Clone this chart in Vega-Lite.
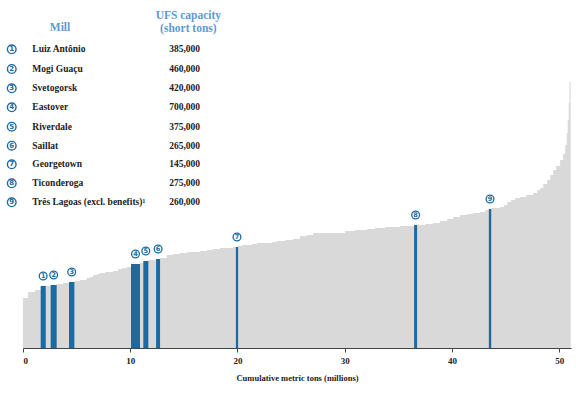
{
  "$schema": "https://vega.github.io/schema/vega-lite/v6.json",
  "width": 548,
  "height": 348,
  "autosize": {"type": "none"},
  "padding": {"left": 23, "top": 0, "right": 5, "bottom": 45},
  "background": "white",
  "config": {
    "view": {"stroke": null},
    "font": "Liberation Serif"
  },
  "datasets": {
    "curve": [
      {"x": 0.00, "h": 50}, {"x": 0.47, "h": 56}, {"x": 1.12, "h": 58}, {"x": 1.65, "h": 62},
      {"x": 2.12, "h": 62}, {"x": 2.58, "h": 63}, {"x": 3.14, "h": 64}, {"x": 3.73, "h": 65},
      {"x": 4.29, "h": 66}, {"x": 4.79, "h": 67}, {"x": 5.32, "h": 68}, {"x": 5.94, "h": 70},
      {"x": 6.25, "h": 71}, {"x": 6.53, "h": 73}, {"x": 6.90, "h": 74}, {"x": 7.18, "h": 75},
      {"x": 7.65, "h": 76}, {"x": 8.40, "h": 77}, {"x": 8.86, "h": 79}, {"x": 9.24, "h": 80},
      {"x": 9.70, "h": 81}, {"x": 10.07, "h": 84}, {"x": 10.91, "h": 85}, {"x": 11.22, "h": 87},
      {"x": 11.69, "h": 88}, {"x": 12.41, "h": 89}, {"x": 12.78, "h": 90}, {"x": 13.40, "h": 93},
      {"x": 13.99, "h": 94}, {"x": 14.65, "h": 95}, {"x": 15.30, "h": 96}, {"x": 16.51, "h": 97},
      {"x": 17.16, "h": 98}, {"x": 17.72, "h": 99}, {"x": 18.38, "h": 100}, {"x": 19.59, "h": 101},
      {"x": 19.85, "h": 101}, {"x": 20.06, "h": 102}, {"x": 20.43, "h": 103}, {"x": 21.36, "h": 104},
      {"x": 21.83, "h": 105}, {"x": 23.23, "h": 106}, {"x": 23.69, "h": 107}, {"x": 24.44, "h": 108},
      {"x": 25.19, "h": 109}, {"x": 25.84, "h": 112}, {"x": 26.49, "h": 113}, {"x": 27.05, "h": 115},
      {"x": 30.04, "h": 117}, {"x": 30.97, "h": 118}, {"x": 32.09, "h": 119}, {"x": 32.84, "h": 120},
      {"x": 33.77, "h": 121}, {"x": 35.17, "h": 122}, {"x": 36.47, "h": 123}, {"x": 36.75, "h": 123},
      {"x": 37.50, "h": 124}, {"x": 38.25, "h": 125}, {"x": 38.90, "h": 127}, {"x": 39.55, "h": 129},
      {"x": 40.11, "h": 131}, {"x": 40.77, "h": 133}, {"x": 41.42, "h": 134}, {"x": 41.98, "h": 135},
      {"x": 42.63, "h": 136}, {"x": 43.10, "h": 138}, {"x": 43.44, "h": 139}, {"x": 43.66, "h": 140},
      {"x": 44.50, "h": 141}, {"x": 44.87, "h": 143}, {"x": 45.15, "h": 146}, {"x": 45.52, "h": 148},
      {"x": 45.90, "h": 150}, {"x": 46.36, "h": 151}, {"x": 46.92, "h": 153}, {"x": 47.57, "h": 155},
      {"x": 47.95, "h": 158}, {"x": 48.23, "h": 160}, {"x": 48.51, "h": 164}, {"x": 48.88, "h": 168},
      {"x": 49.16, "h": 173}, {"x": 49.44, "h": 178}, {"x": 49.72, "h": 182}, {"x": 50.09, "h": 188},
      {"x": 50.37, "h": 194}, {"x": 50.56, "h": 203}, {"x": 50.70, "h": 215}, {"x": 50.79, "h": 228},
      {"x": 50.89, "h": 245}, {"x": 50.96, "h": 266}, {"x": 51.07, "h": 266}
    ],
    "mills": [
      {"id": "1", "mill": "Luiz Antônio", "cap": "385,000", "x0": 1.65, "x1": 2.12, "xm": 1.88, "top": 62, "ty": 298.7},
      {"id": "2", "mill": "Mogi Guaçu", "cap": "460,000", "x0": 2.58, "x1": 3.14, "xm": 2.86, "top": 63, "ty": 279.0},
      {"id": "3", "mill": "Svetogorsk", "cap": "420,000", "x0": 4.29, "x1": 4.79, "xm": 4.54, "top": 66, "ty": 259.7},
      {"id": "4", "mill": "Eastover", "cap": "700,000", "x0": 10.07, "x1": 10.91, "xm": 10.49, "top": 84, "ty": 240.7},
      {"id": "5", "mill": "Riverdale", "cap": "375,000", "x0": 11.22, "x1": 11.69, "xm": 11.45, "top": 87, "ty": 221.3},
      {"id": "6", "mill": "Saillat", "cap": "265,000", "x0": 12.41, "x1": 12.78, "xm": 12.6, "top": 89, "ty": 202.3},
      {"id": "7", "mill": "Georgetown", "cap": "145,000", "x0": 19.85, "x1": 20.06, "xm": 19.95, "top": 101, "ty": 183.7},
      {"id": "8", "mill": "Ticonderoga", "cap": "275,000", "x0": 36.47, "x1": 36.75, "xm": 36.61, "top": 123, "ty": 164.7},
      {"id": "9", "mill": "Três Lagoas (excl. benefits)¹", "cap": "260,000", "x0": 43.44, "x1": 43.66, "xm": 43.55, "top": 139, "ty": 145.7}
    ],
    "headers": [
      {"label": "Mill", "hx": 3.45, "hy": 319.7},
      {"label": "UFS capacity", "hx": 15.42, "hy": 332.3},
      {"label": "(short tons)", "hx": 15.42, "hy": 318.7}
    ]
  },
  "encoding": {
    "x": {
      "type": "quantitative",
      "scale": {"domain": [0, 51.1], "nice": false, "zero": false},
      "axis": {
        "title": "Cumulative metric tons (millions)",
        "values": [0, 10, 20, 30, 40, 50],
        "grid": false,
        "domainColor": "#444",
        "tickColor": "#444",
        "tickSize": 4,
        "labelFont": "Liberation Serif",
        "labelFontSize": 9,
        "labelFontWeight": "bold",
        "labelColor": "#222",
        "labelPadding": 4,
        "titleFont": "Liberation Serif",
        "titleFontSize": 8.5,
        "titleFontWeight": "bold",
        "titleColor": "#222",
        "titlePadding": 8
      }
    },
    "y": {
      "type": "quantitative",
      "scale": {"domain": [0, 348], "nice": false},
      "axis": null
    }
  },
  "layer": [
    {
      "data": {"name": "curve"},
      "mark": {"type": "area", "interpolate": "step-after", "color": "#d9d9d9"},
      "encoding": {
        "x": {"field": "x", "type": "quantitative"},
        "y": {"field": "h", "type": "quantitative"}
      }
    },
    {
      "data": {"name": "mills"},
      "mark": {"type": "rect", "color": "#1b6aa2"},
      "encoding": {
        "x": {"field": "x0", "type": "quantitative"},
        "x2": {"field": "x1"},
        "y": {"field": "top", "type": "quantitative"},
        "y2": {"datum": 0}
      }
    },
    {
      "data": {"name": "mills"},
      "mark": {"type": "point", "shape": "circle", "filled": false, "fill": "white", "fillOpacity": 1, "stroke": "#1b6aa2", "strokeWidth": 1.3, "size": 60, "opacity": 1, "yOffset": -10},
      "encoding": {
        "x": {"field": "xm", "type": "quantitative"},
        "y": {"field": "top", "type": "quantitative"}
      }
    },
    {
      "data": {"name": "mills"},
      "mark": {"type": "text", "color": "#1b6aa2", "fontSize": 6.5, "fontWeight": "bold", "font": "DejaVu Sans", "align": "center", "baseline": "middle", "yOffset": -10},
      "encoding": {
        "x": {"field": "xm", "type": "quantitative"},
        "y": {"field": "top", "type": "quantitative"},
        "text": {"field": "id"}
      }
    },
    {
      "data": {"name": "mills"},
      "mark": {"type": "point", "shape": "circle", "filled": false, "fill": "white", "fillOpacity": 1, "stroke": "#1b6aa2", "strokeWidth": 1.4, "size": 75, "opacity": 1},
      "encoding": {
        "x": {"datum": -1.05},
        "y": {"field": "ty", "type": "quantitative"}
      }
    },
    {
      "data": {"name": "mills"},
      "mark": {"type": "text", "color": "#1b6aa2", "fontSize": 7, "fontWeight": "bold", "font": "DejaVu Sans", "align": "center", "baseline": "middle"},
      "encoding": {
        "x": {"datum": -1.05},
        "y": {"field": "ty", "type": "quantitative"},
        "text": {"field": "id"}
      }
    },
    {
      "data": {"name": "mills"},
      "mark": {"type": "text", "color": "#222", "fontSize": 9.5, "fontWeight": "bold", "font": "Liberation Serif", "align": "left", "baseline": "middle"},
      "encoding": {
        "x": {"datum": 0.87},
        "y": {"field": "ty", "type": "quantitative"},
        "text": {"field": "mill"}
      }
    },
    {
      "data": {"name": "mills"},
      "mark": {"type": "text", "color": "#222", "fontSize": 9.5, "fontWeight": "bold", "font": "Liberation Serif", "align": "right", "baseline": "middle"},
      "encoding": {
        "x": {"datum": 16.51},
        "y": {"field": "ty", "type": "quantitative"},
        "text": {"field": "cap"}
      }
    },
    {
      "data": {"name": "headers"},
      "mark": {"type": "text", "color": "#5b9bd5", "fontSize": 11.5, "fontWeight": "bold", "font": "Liberation Serif", "align": "center", "baseline": "middle"},
      "encoding": {
        "x": {"field": "hx", "type": "quantitative"},
        "y": {"field": "hy", "type": "quantitative"},
        "text": {"field": "label"}
      }
    }
  ]
}
